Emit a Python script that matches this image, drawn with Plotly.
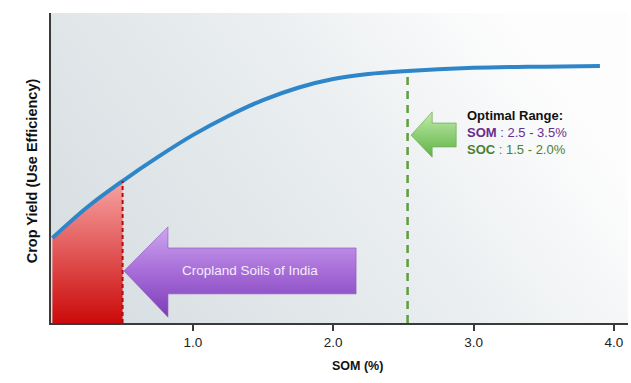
import base64
import plotly.graph_objects as go

# ---- data ----
som = [0.0, 0.25, 0.5, 0.75, 1.0, 1.25, 1.5, 1.75, 2.0, 2.25, 2.5, 3.0, 3.5, 3.9]
yield_eff = [27.4, 37.4, 45.8, 53.5, 60.6, 66.7, 71.9, 75.9, 78.7, 80.3, 81.2, 82.3, 82.7, 82.9]
india_som = 0.5          # cropland soils of India
optimal_som = 2.53       # start of optimal range
tick_vals = [1, 2, 3, 4]
tick_text = ["1.0", "2.0", "3.0", "4.0"]

# decorative arrow outlines (data coords)
purple_arrow_x = [0.51, 0.823, 0.823, 2.163, 2.163, 0.823, 0.823, 0.51]
purple_arrow_y = [16.8, 31.0, 24.2, 24.2, 9.4, 9.4, 1.9, 16.8]
green_arrow_x = [2.555, 2.705, 2.705, 2.876, 2.876, 2.705, 2.705, 2.555]
green_arrow_y = [60.6, 68.1, 64.5, 64.5, 56.8, 56.8, 53.5, 60.6]

FONT = "Liberation Sans, Arial, Helvetica, sans-serif"

fig = go.Figure()

# red filled region under curve up to india_som
n_red = som.index(india_som) + 1
fig.add_trace(go.Scatter(
    x=som[:n_red], y=yield_eff[:n_red], mode="lines", line=dict(width=0),
    fill="tozeroy",
    fillgradient=dict(type="vertical", start=0, stop=yield_eff[n_red - 1],
                      colorscale=[[0, "#cc0a0a"], [1, "#f7a3a3"]]),
    hoverinfo="skip", showlegend=False))

# arrows
fig.add_trace(go.Scatter(
    x=purple_arrow_x, y=purple_arrow_y, mode="lines",
    line=dict(width=1, color="rgba(140,80,190,0.6)"), fill="toself",
    fillgradient=dict(type="vertical", start=min(purple_arrow_y), stop=max(purple_arrow_y),
                      colorscale=[[0, "#7e3cb6"], [0.5, "#a66cd8"], [1, "#cfa6ef"]]),
    hoverinfo="skip", showlegend=False))
fig.add_trace(go.Scatter(
    x=green_arrow_x, y=green_arrow_y, mode="lines",
    line=dict(width=1, color="rgba(110,170,80,0.7)"), fill="toself",
    fillgradient=dict(type="vertical", start=min(green_arrow_y), stop=max(green_arrow_y),
                      colorscale=[[0, "#5fb246"], [1, "#c0eca8"]]),
    hoverinfo="skip", showlegend=False))

# main curve
fig.add_trace(go.Scatter(
    x=som, y=yield_eff, mode="lines",
    line=dict(color="#2e86c9", width=4, shape="spline", smoothing=1.0),
    hoverinfo="skip", showlegend=False))

# dashed reference lines
opt_y = yield_eff[som.index(2.5)]
fig.add_shape(type="line", x0=india_som, x1=india_som, y0=0, y1=yield_eff[n_red - 1],
              line=dict(color="#b80c0c", width=2, dash="4px,3px"))
fig.add_shape(type="line", x0=optimal_som, x1=optimal_som, y0=0, y1=opt_y,
              line=dict(color="#5e9e3c", width=2.5, dash="8px,6px"))

# gradient background image
svg = ('<svg xmlns="http://www.w3.org/2000/svg" width="100" height="100" viewBox="0 0 100 100" '
       'preserveAspectRatio="none"><defs><linearGradient id="g" x1="0" y1="0.7" x2="1" y2="0.3">'
       '<stop offset="0" stop-color="#d8dfe2"/><stop offset="0.5" stop-color="#e9edef"/>'
       '<stop offset="0.92" stop-color="#fdfdfd"/></linearGradient></defs>'
       '<rect width="100" height="100" fill="url(#g)"/></svg>')
src = "data:image/svg+xml;base64," + base64.b64encode(svg.encode()).decode()
fig.add_layout_image(dict(source=src, xref="paper", yref="paper", x=0, y=1,
                          sizex=1, sizey=1, sizing="stretch", layer="below"))

# annotations
fig.add_annotation(x=1.41, y=16.8, text="Cropland Soils of India", showarrow=False,
                   font=dict(family=FONT, size=13.5, color="#f4ecfb"))
fig.add_annotation(
    x=2.94, y=61.5, xanchor="left", yanchor="middle", align="left", showarrow=False,
    text=("<b>Optimal Range:</b><br>"
          "<span style='color:#6a2c8e'><b>SOM</b> : 2.5 - 3.5%</span><br>"
          "<span style='color:#4f8030'><b>SOC</b> : 1.5 - 2.0%</span>"),
    font=dict(family=FONT, size=13, color="#111111"))
fig.add_annotation(x=2.17, y=-0.168, yref="paper", text="<b>SOM (%)</b>", showarrow=False,
                   font=dict(family=FONT, size=12.5, color="#111111"))
fig.add_annotation(x=-0.05, y=0.49, xref="paper", yref="paper", textangle=-90,
                   text="<b>Crop Yield (Use Efficiency)</b>", showarrow=False,
                   font=dict(family=FONT, size=14.5, color="#111111"))

fig.update_layout(
    width=631, height=383,
    margin=dict(l=51, r=3, t=13, b=60, autoexpand=False),
    paper_bgcolor="white", plot_bgcolor="rgba(0,0,0,0)",
    font=dict(family=FONT),
    xaxis=dict(range=[-0.01, 4.10], showgrid=False, zeroline=False,
               showline=True, linecolor="#3a3a3a", linewidth=2,
               tickvals=tick_vals, ticktext=tick_text, ticks="outside",
               ticklen=6, tickwidth=2, tickcolor="#3a3a3a",
               tickfont=dict(family=FONT, size=13.5, color="#222222")),
    yaxis=dict(range=[0, 100], showgrid=False, zeroline=False, showticklabels=False,
               showline=True, linecolor="#3a3a3a", linewidth=2, ticks=""),
)

fig.write_html("out.html", config={"displayModeBar": False},
               post_script="document.body.style.margin='0';document.body.style.overflow='hidden';")
